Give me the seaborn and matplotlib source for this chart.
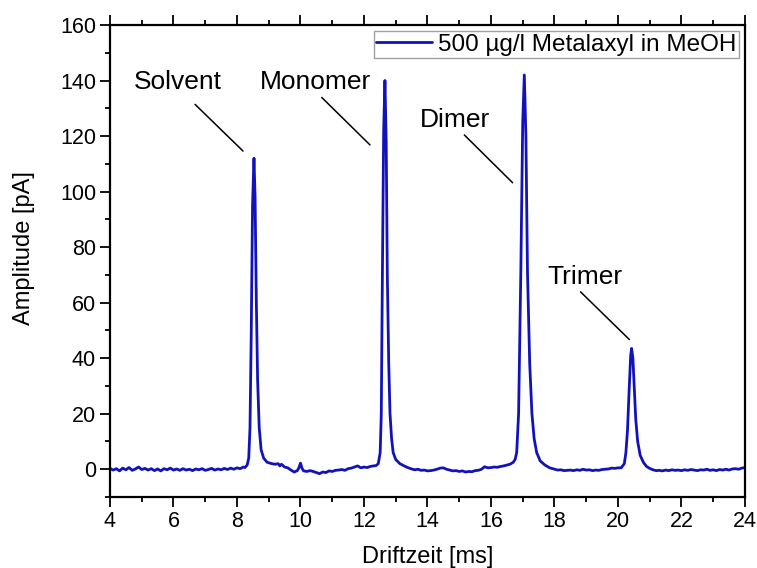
import matplotlib
matplotlib.use("Agg")
import matplotlib.pyplot as plt
import seaborn as sns
import pandas as pd
from matplotlib.ticker import MultipleLocator

# ---- data ----
drift_ms = [
    4.0, 4.1, 4.2, 4.3, 4.4, 4.5, 4.6, 4.7, 4.8, 4.9, 5.0, 5.1, 5.2, 5.3, 5.4, 5.5, 5.6, 5.7, 5.8, 5.9,
    6.0, 6.1, 6.2, 6.3, 6.4, 6.5, 6.6, 6.7, 6.8, 6.9, 7.0, 7.1, 7.2, 7.3, 7.4, 7.5, 7.6, 7.7, 7.8, 7.9,
    8.0, 8.1, 8.2, 8.25, 8.32, 8.37, 8.41, 8.45, 8.49, 8.535, 8.57, 8.61, 8.65, 8.70, 8.76, 8.84, 8.95,
    9.1, 9.2, 9.3, 9.35, 9.4, 9.5, 9.6, 9.7, 9.8, 9.9, 9.95, 10.0, 10.05, 10.1, 10.2, 10.3, 10.4, 10.5,
    10.6, 10.7, 10.8, 10.9, 11.0, 11.1, 11.2, 11.3, 11.4, 11.5, 11.6, 11.7, 11.8, 11.9, 12.0, 12.1, 12.2,
    12.3, 12.38, 12.45, 12.51, 12.545, 12.58, 12.62, 12.66, 12.70, 12.735, 12.78, 12.82, 12.87, 12.92,
    13.0, 13.13, 13.3, 13.4, 13.5, 13.6, 13.7, 13.8, 13.9, 14.0, 14.1, 14.2, 14.3, 14.4, 14.5, 14.6,
    14.7, 14.8, 14.9, 15.0, 15.1, 15.2, 15.3, 15.4, 15.5, 15.6, 15.7, 15.8, 15.9, 16.0, 16.1, 16.2, 16.3,
    16.4, 16.5, 16.6, 16.7, 16.76, 16.81, 16.87, 16.94, 17.0, 17.05, 17.10, 17.15, 17.22, 17.29, 17.36,
    17.44, 17.55, 17.7, 17.85, 18.0, 18.1, 18.2, 18.3, 18.4, 18.5, 18.6, 18.7, 18.8, 18.9, 19.0, 19.1,
    19.2, 19.3, 19.4, 19.5, 19.6, 19.7, 19.8, 19.9, 20.0, 20.1, 20.2, 20.25, 20.3, 20.35, 20.40, 20.43,
    20.47, 20.51, 20.56, 20.62, 20.7, 20.8, 20.9, 21.0, 21.1, 21.2, 21.3, 21.4, 21.5, 21.6, 21.7, 21.8,
    21.9, 22.0, 22.1, 22.2, 22.3, 22.4, 22.5, 22.6, 22.7, 22.8, 22.9, 23.0, 23.1, 23.2, 23.3, 23.4, 23.5,
    23.6, 23.7, 23.8, 23.9, 24.0,
]
amplitude_pa = [
    0.3, -0.3, 0.2, -0.6, 0.4, -0.2, 0.6, -0.4, 0.1, 0.8, -0.1, 0.3, -0.3, 0.2, -0.5, 0.1, -0.6, 0.2, -0.2, 0.4,
    -0.3, 0.1, -0.4, 0.2, -0.3, 0.0, -0.5, 0.1, -0.2, 0.2, -0.4, -0.1, 0.3, -0.3, 0.1, -0.2, 0.3, -0.1, 0.4, 0.0,
    0.5, 0.2, 0.8, 0.6, 1.5, 4.0, 15.0, 50.0, 95.0, 112.0, 98.0, 60.0, 32.0, 15.0, 7.0, 4.0, 2.5,
    2.0, 1.8, 2.0, 1.2, 1.8, 0.8, 0.5, -0.3, -1.0, -0.5, 0.5, 2.2, 0.3, -0.6, -0.8, -0.5, -0.8, -1.2,
    -1.6, -1.0, -1.2, -0.6, -0.8, -0.4, -0.3, -0.1, -0.4, 0.2, 0.4, 0.8, 1.2, 0.5, 0.8, 0.6, 1.0,
    1.2, 1.3, 2.0, 6.0, 20.0, 70.0, 122.0, 140.0, 118.0, 70.0, 38.0, 20.0, 11.0, 6.0,
    3.5, 2.0, 1.0, 0.5, 0.1, -0.2, 0.0, -0.4, -0.3, -0.6, -0.5, -0.3, 0.0, 0.4, 0.5, 0.0,
    -0.3, -0.6, -0.5, -0.8, -0.6, -1.0, -0.8, -0.9, -0.5, -0.4, 0.0, 0.9, 0.5, 0.6, 0.8, 0.7, 1.0,
    1.2, 1.5, 1.8, 2.5, 3.5, 6.0, 20.0, 71.0, 125.0, 142.0, 120.0, 71.0, 38.0, 20.0, 11.0,
    6.0, 3.0, 1.5, 0.5, 0.0, -0.3, -0.2, -0.5, -0.4, -0.3, -0.5, -0.2, -0.4, 0.0, -0.3, -0.2,
    -0.5, -0.3, -0.4, -0.1, 0.0, 0.1, 0.4, 0.3, 0.5, 0.5, 2.0, 6.0, 14.0, 28.0, 41.0, 43.5,
    40.0, 30.0, 18.0, 10.0, 5.0, 2.5, 1.0, 0.3, -0.2, -0.5, -0.4, -0.6, -0.3, -0.5, -0.2, -0.4,
    -0.3, -0.5, -0.2, -0.4, -0.1, -0.3, -0.5, -0.2, -0.3, 0.0, -0.4, -0.2, -0.5, -0.1, -0.3, 0.0, -0.3,
    0.1, 0.2, 0.0, 0.4, 0.6,
]
series_label = "500 µg/l Metalaxyl in MeOH"

peak_names = ["Solvent", "Monomer", "Dimer", "Trimer"]
label_x = [6.13, 10.46, 14.87, 18.96]
label_y = [139.5, 139.5, 125.8, 69.3]
leader_start_x = [6.68, 10.67, 15.16, 18.82]
leader_start_y = [131.4, 133.9, 120.4, 63.9]
leader_end_x = [8.19, 12.19, 16.68, 20.36]
leader_end_y = [114.6, 116.8, 103.2, 46.7]

x_ticks = [4, 6, 8, 10, 12, 14, 16, 18, 20, 22, 24]
y_ticks = [0, 20, 40, 60, 80, 100, 120, 140, 160]

# ---- plotting ----
sns.set_theme(style="ticks")
plt.rcParams["font.family"] = ["Liberation Sans", "DejaVu Sans"]

df = pd.DataFrame({"Driftzeit": drift_ms, "Amplitude": amplitude_pa, "Serie": series_label})

fig = plt.figure(figsize=(7.57, 5.68), dpi=100)
ax = fig.add_axes([0.1453, 0.125, 0.8388, 0.831])

sns.lineplot(data=df, x="Driftzeit", y="Amplitude", hue="Serie", palette=["#1212bd"],
             linewidth=2.0, ax=ax, sort=False, estimator=None)

for name, tx, ty, sx, sy, ex, ey in zip(peak_names, label_x, label_y,
                                        leader_start_x, leader_start_y, leader_end_x, leader_end_y):
    ax.text(tx, ty, name, ha="center", va="center", fontsize=19, color="black")
    ax.plot([sx, ex], [sy, ey], color="black", linewidth=1.1)

ax.set_xlim(4, 24)
ax.set_ylim(-10, 160)
ax.set_xticks(x_ticks)
ax.set_yticks(y_ticks)
ax.xaxis.set_minor_locator(MultipleLocator(1))
ax.yaxis.set_minor_locator(MultipleLocator(10))

for s in ax.spines.values():
    s.set_visible(True)
    s.set_color("black")
    s.set_linewidth(1.6)

ax.tick_params(axis="both", which="major", direction="out", length=7, width=1.3,
               labelsize=15.5, colors="black", pad=3)
ax.tick_params(axis="both", which="minor", direction="out", length=3.5, width=1.3, colors="black")
ax.tick_params(axis="x", which="both", top=True, labeltop=False)
ax.tick_params(axis="y", which="both", right=False, labelright=False)

ax.set_xlabel("Driftzeit [ms]", fontsize=17, color="black")
ax.set_ylabel("Amplitude [pA]", fontsize=17, color="black")
ax.xaxis.set_label_coords(0.5, -0.104)
ax.yaxis.set_label_coords(-0.118, 0.527)

leg = ax.legend(loc="upper right", bbox_to_anchor=(1.0, 1.0), borderaxespad=0.25,
                fontsize=17.5, frameon=True, fancybox=False, edgecolor="#888888",
                handlelength=2.3, handletextpad=0.25, borderpad=0.1, title=None,
                labelcolor="black")
leg.get_frame().set_linewidth(1.0)
for line in leg.get_lines():
    line.set_linewidth(2.0)

fig.savefig("out.png", dpi=100)
